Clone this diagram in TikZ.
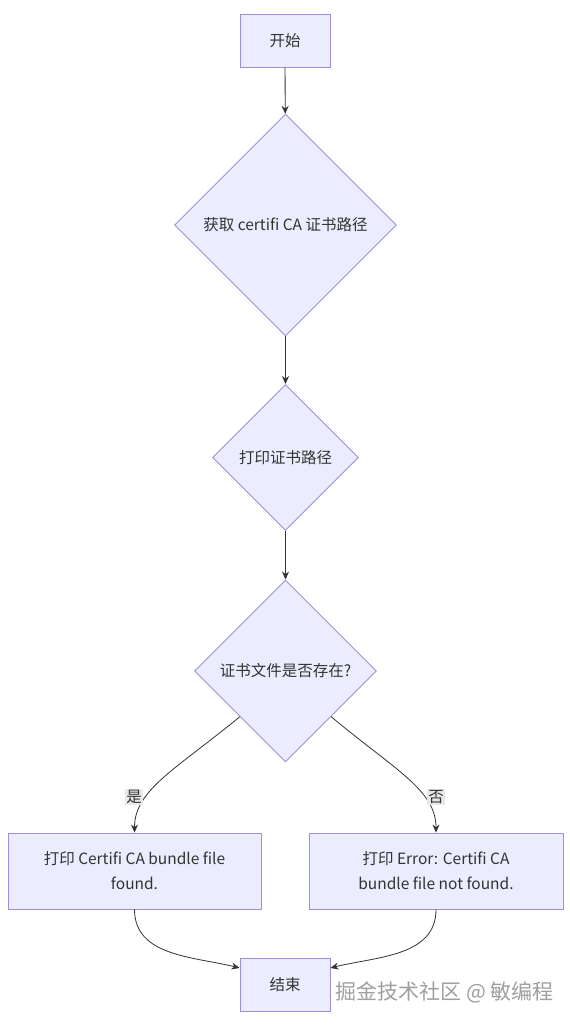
\documentclass[tikz,border=0pt]{standalone}
\usepackage{fontspec}
\setmainfont{Noto Sans CJK SC}
\usetikzlibrary{shapes.geometric,arrows.meta,positioning}
\definecolor{nodefill}{HTML}{ECECFF}
\definecolor{nodeline}{HTML}{9F8FD8}
\definecolor{inkline}{HTML}{333333}
\definecolor{labelbg}{HTML}{E8E8E8}
\tikzset{
    stepbox/.style={draw=nodeline,fill=nodefill,line width=0.9pt,text=inkline,align=center,inner sep=0pt},
    choice/.style={diamond,draw=nodeline,fill=nodefill,line width=0.9pt,text=inkline,aspect=1,inner sep=0pt},
    flow/.style={draw=inkline,line width=0.8pt,-{Stealth[length=8pt,width=7pt]}},
    edgelabel/.style={fill=labelbg,text=inkline,inner sep=1.5pt},
}
\begin{document}
\begin{tikzpicture}[x=1pt,y=1pt,font=\fontsize{15.5}{25}\selectfont]
        \useasboundingbox[fill=white] (0,0) rectangle (570,-1025);
        \node[stepbox,minimum width=90,minimum height=53] (start) at (285,-40.5) {开始};
        \node[choice,minimum width=222,minimum height=222] (getpath) at (285.5,-225) {获取 certifi CA 证书路径};
        \node[choice,minimum width=146,minimum height=146] (printpath) at (285.5,-457.5) {打印证书路径};
        \node[choice,minimum width=182,minimum height=182] (exists) at (285.5,-671) {证书文件是否存在?};
        \node[stepbox,minimum width=253,minimum height=76] (found) at (134.5,-871) {打印 Certifi CA bundle file\\found.};
        \node[stepbox,minimum width=254,minimum height=76] (notfound) at (436,-871) {打印 Error: Certifi CA\\bundle file not found.};
        \node[stepbox,minimum width=90,minimum height=53] (stop) at (285,-984.5) {结束};
        \draw[flow] (start) -- (getpath);
        \draw[flow] (getpath) -- (printpath);
        \draw[flow] (printpath) -- (exists);
        \draw[flow] (exists.south west) .. controls (175,-770) and (134.5,-790) .. (found.north);
        \draw[flow] (exists.south east) .. controls (395,-770) and (436,-790) .. (notfound.north);
        \draw[flow] (found.south) to[out=-90,in=166] (stop.160);
        \draw[flow] (notfound.south) to[out=-90,in=14] (stop.20);
        \node[edgelabel] (yes) at (134,-797) {是};
        \node[edgelabel] (no) at (436,-797) {否};
        \node[text=gray!75,font=\fontsize{21}{21}\selectfont,anchor=west] (mark) at (332,-992) {掘金技术社区 @ 敏编程};
    \end{tikzpicture}
\end{document}
